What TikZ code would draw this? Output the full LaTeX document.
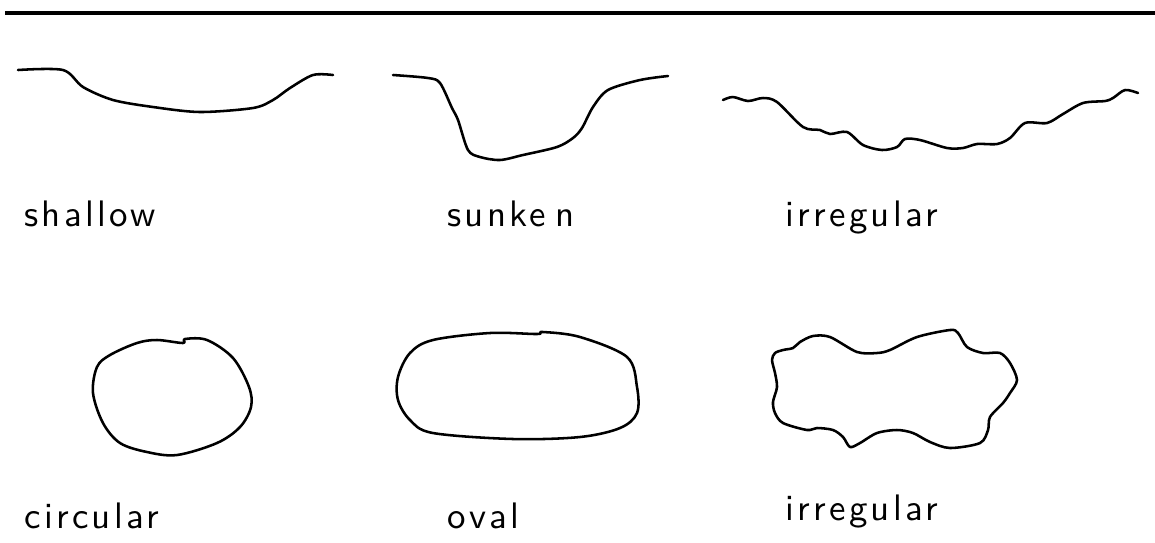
\documentclass[tikz,border=0pt]{standalone}
\usepackage{fontspec}
\newfontfamily\labfont{lmsans10-regular.otf}[LetterSpace=9]
\begin{document}
\begin{tikzpicture}[x=0.02cm,y=-0.02cm,
  curve/.style={line width=1.45pt,line join=round,line cap=round},
  lbl/.style={anchor=base west,inner sep=0pt,font=\labfont\fontsize{21}{23}\selectfont}]
\useasboundingbox (0,0) rectangle (1155,542);
% top rule
\draw[line width=1.75pt] (5,13) -- (1155,13);
% shallow
\draw[curve] plot[smooth,tension=0.5] coordinates {(18,70) (63,70) (83,87) (113,100) (153,107) (200,112) (253,108) (273,100) (290,88) (313,75) (333,75)};
% sunken
\draw[curve] plot[smooth,tension=0.5] coordinates {(393,75) (428,78) (440,83) (452,108) (458,120) (468,150) (480,157) (500,160) (523,155) (557,147) (573,138) (582,128) (593,107) (608,90) (640,80) (668,76)};
% irregular profile
\draw[curve] plot[smooth,tension=0.5] coordinates {(723,100) (733,97) (748,101) (763,98) (777,102) (803,127) (820,130) (830,134) (847,132) (863,145) (882,150) (897,147) (905,139) (920,140) (947,148) (963,148) (977,144) (997,144) (1010,138) (1025,123) (1047,123) (1063,114) (1083,103) (1105,101) (1113,98) (1125,90) (1138,93)};
% circular
\draw[curve] plot[smooth cycle,tension=0.55] coordinates {(157,340) (183,343) (185,339) (207,340) (233,358) (249,387) (251,407) (240,427) (217,443) (177,455) (147,452) (120,443) (103,423) (93,393) (97,367) (110,355) (137,343)};
% oval
\draw[curve] plot[smooth cycle,tension=0.55] coordinates {(433,340) (490,333) (537,334) (543,332) (580,337) (627,357) (637,387) (637,413) (620,428) (580,437) (513,439) (433,433) (410,420) (398,400) (398,377) (410,353)};
% irregular outline
\draw[curve] plot[smooth cycle,tension=0.5] coordinates {(775,353) (783,350) (793,348) (800,342) (813,336) (830,337) (857,352) (877,353) (890,350) (917,337) (950,330) (958,333) (967,347) (983,353) (1000,353) (1010,363) (1017,380) (1010,393) (1003,403) (990,417) (988,430) (980,443) (950,448) (930,442) (913,433) (897,430) (877,433) (860,443) (850,447) (843,437) (833,430) (817,428) (807,430) (783,423) (775,413) (773,402) (777,387) (775,373) (772,360)};
% labels
\node[lbl] (l1) at (24,226) {shallow};
\node[lbl] (l2) at (447,226) {sunke\hspace{5pt}n};
\node[lbl] (l3) at (785,226) {irregular};
\node[lbl] (l4) at (24,528) {circular};
\node[lbl] (l5) at (447,528) {oval};
\node[lbl] (l6) at (785,520) {irregular};
\end{tikzpicture}
\end{document}
